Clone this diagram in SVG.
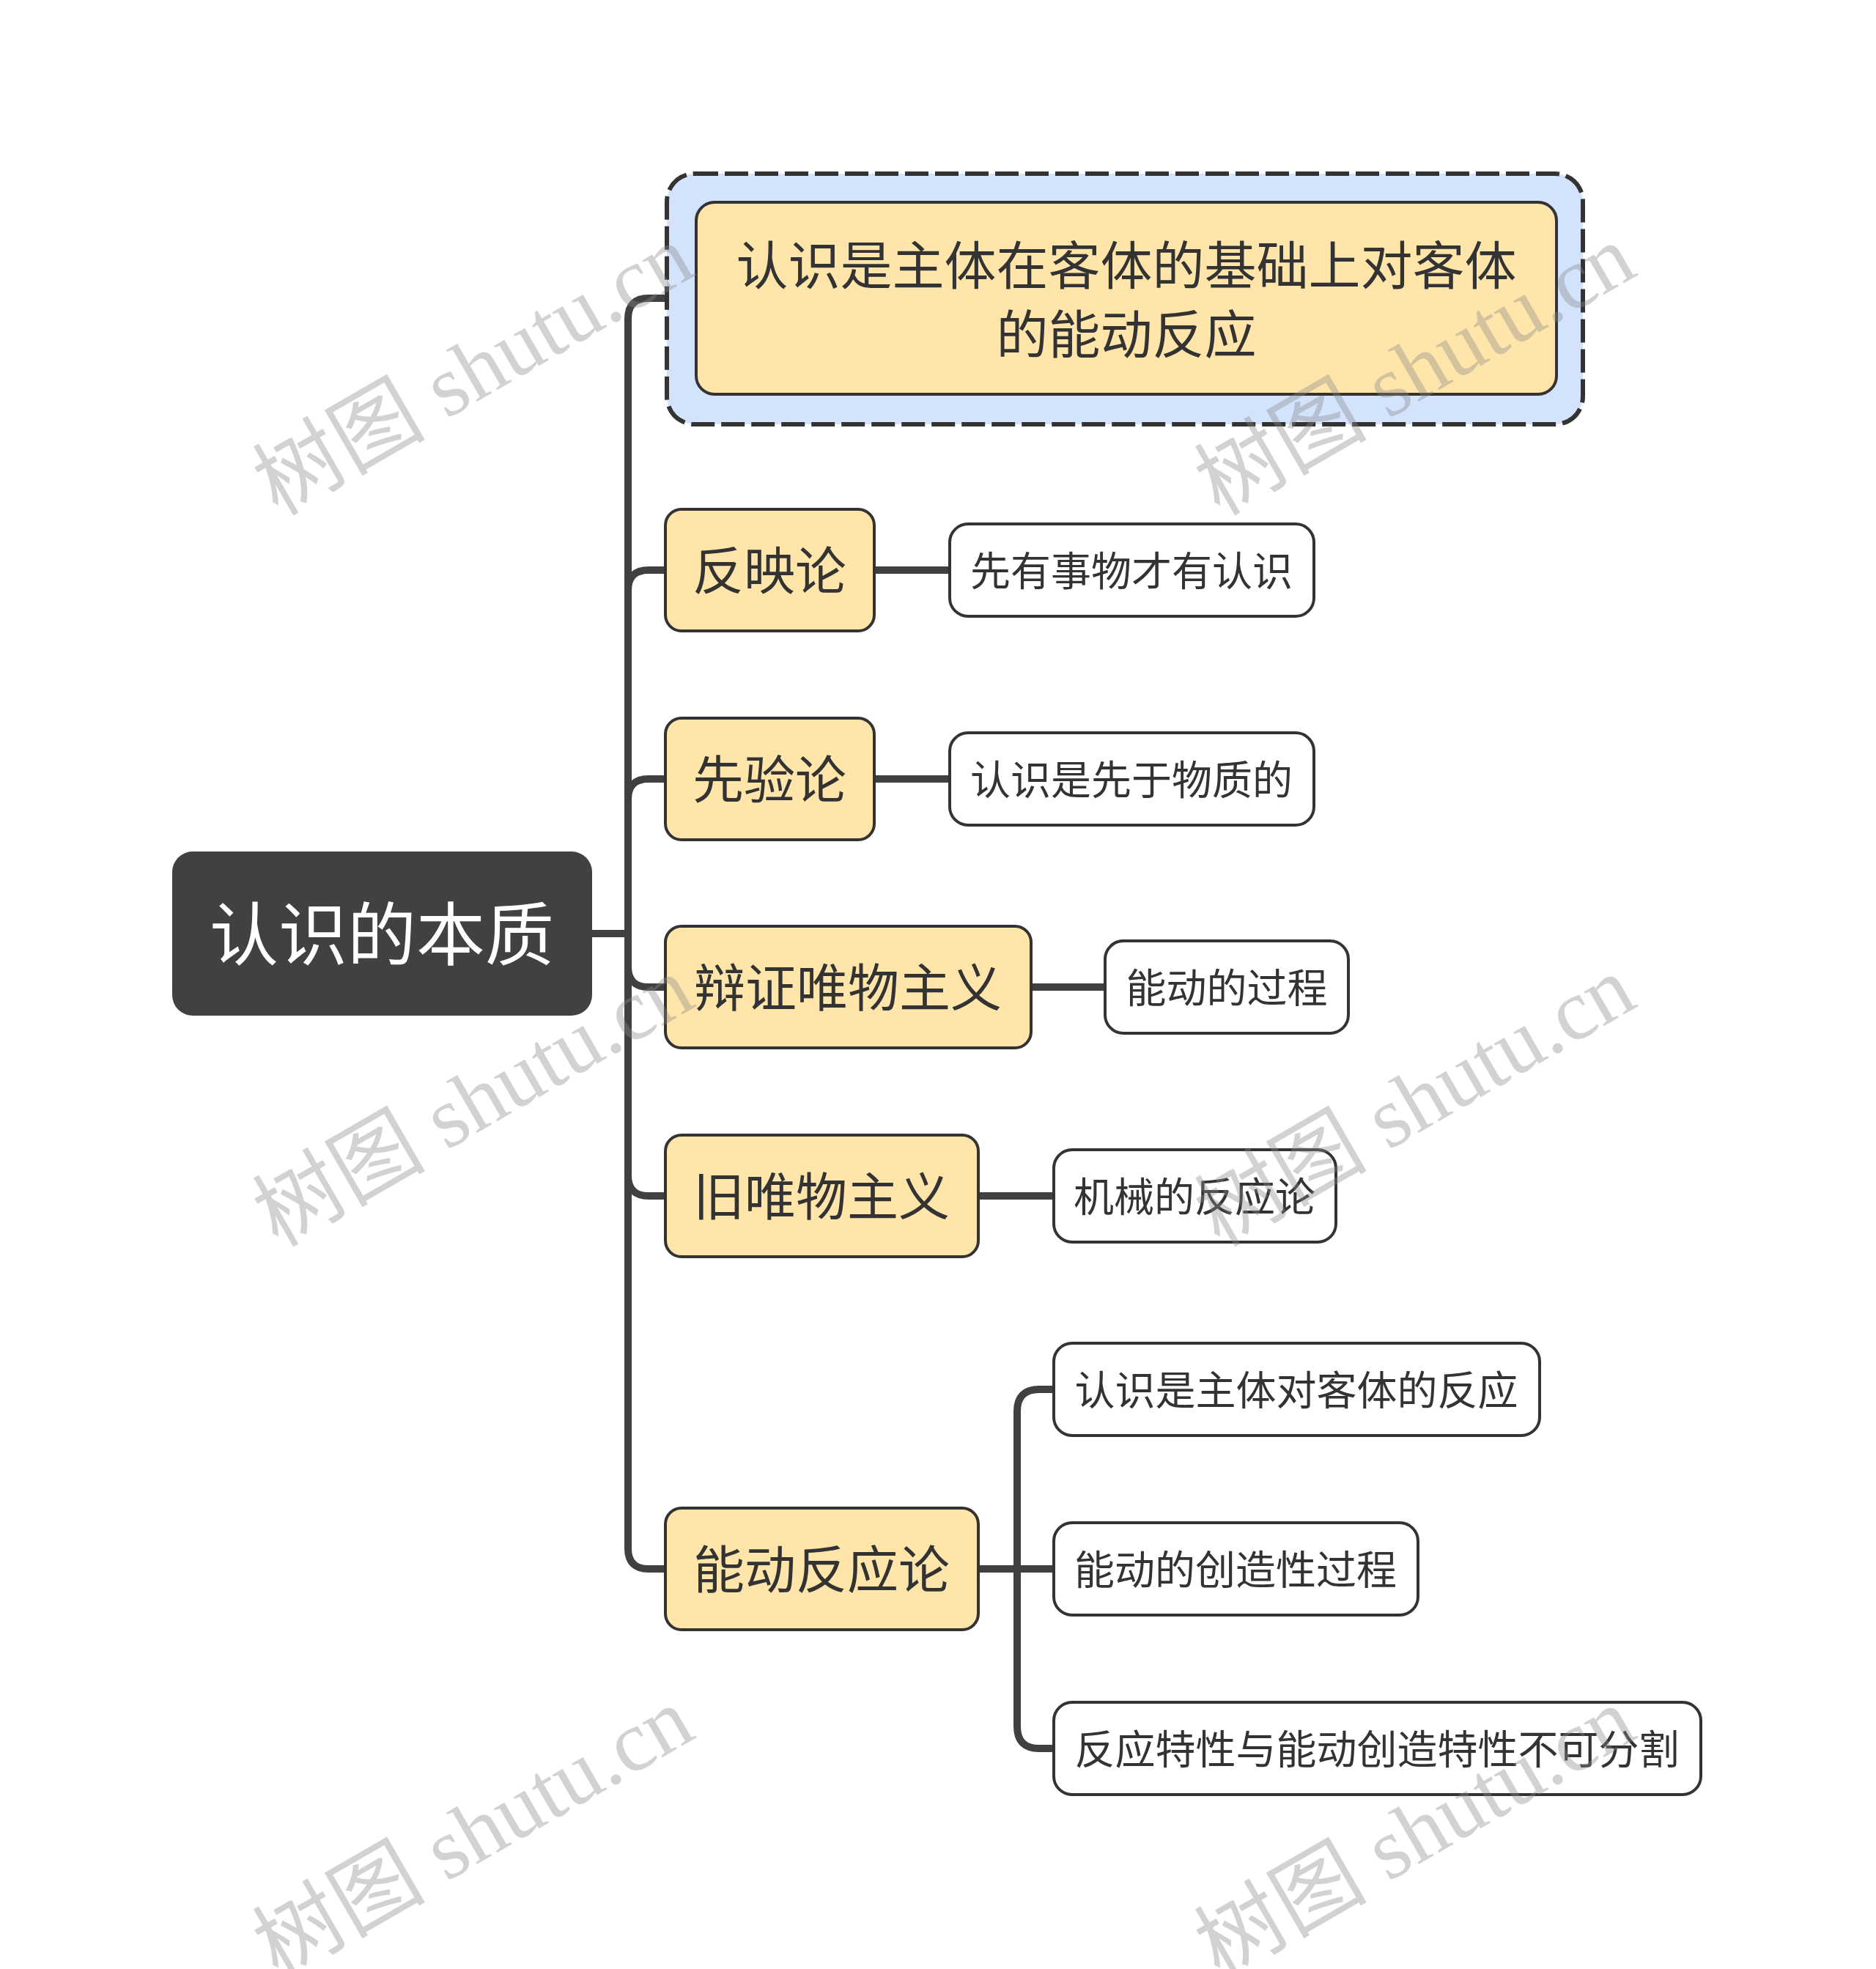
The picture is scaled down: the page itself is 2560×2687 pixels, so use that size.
<svg xmlns="http://www.w3.org/2000/svg" width="2560" height="2687" viewBox="0 0 2560 2687">
<style>
.lnk{fill:none;stroke:#404040;stroke-width:10;stroke-linecap:butt}
.l1 rect{fill:#FFE5A9;stroke:#333333;stroke-width:4}
.l2 rect{fill:#FFFFFF;stroke:#333333;stroke-width:4}
.t{font-family:"Noto Sans CJK SC","Noto Sans",sans-serif;fill:#333333;text-anchor:middle}
.t1{font-size:70px}
.t2{font-size:55px}
.wm{font-family:"Liberation Serif","Noto Sans CJK SC",serif;font-size:118px;fill:#8a8a8a;opacity:0.38}
</style>
<rect width="2560" height="2687" fill="#FFFFFF"/>
<g id="connectors">
<path class="lnk" d="M807,1274 H857"/>
<path class="lnk" d="M857,1274 V435 Q857,407 885,407 H952"/>
<path class="lnk" d="M857,1274 V806 Q857,778 885,778 H910"/>
<path class="lnk" d="M857,1274 V1091 Q857,1063 885,1063 H910"/>
<path class="lnk" d="M857,1274 V1319 Q857,1347 885,1347 H910"/>
<path class="lnk" d="M857,1274 V1604 Q857,1632 885,1632 H910"/>
<path class="lnk" d="M857,1274 V2113 Q857,2141 885,2141 H910"/>
<path class="lnk" d="M1193,778 H1298"/>
<path class="lnk" d="M1193,1063 H1298"/>
<path class="lnk" d="M1407,1347 H1510"/>
<path class="lnk" d="M1335,1632 H1440"/>
<path class="lnk" d="M1335,2141 H1440"/>
<path class="lnk" d="M1388,2141 V1926 Q1388,1896 1418,1896 H1440"/>
<path class="lnk" d="M1388,2141 V2356 Q1388,2386 1418,2386 H1440"/>
</g>
<g id="root">
<rect x="235" y="1162" width="573" height="224" rx="28" fill="#414141"/>
<text class="t" x="521" y="1310" font-size="94" style="fill:#FFFFFF">认识的本质</text>
</g>
<g id="node-top">
<rect x="910" y="237" width="1250" height="342" rx="38" fill="#D3E3FC" stroke="#333333" stroke-width="6" stroke-dasharray="32 9"/>
<g class="l1">
<rect x="950" y="276" width="1174" height="262" rx="25"/>
</g>
<text class="t t1" x="1537" y="388" style="font-size:71px">认识是主体在客体的基础上对客体</text>
<text class="t t1" x="1537" y="482" style="font-size:71px">的能动反应</text>
</g>
<g id="node-fanyinglun" class="l1">
<rect x="908" y="695" width="285" height="166" rx="22"/>
<text class="t t1" x="1050" y="805">反映论</text>
</g>
<g id="node-xianyanlun" class="l1">
<rect x="908" y="980" width="285" height="166" rx="22"/>
<text class="t t1" x="1050" y="1090">先验论</text>
</g>
<g id="node-bianzheng" class="l1">
<rect x="908" y="1264" width="499" height="166" rx="22"/>
<text class="t t1" x="1157" y="1374">辩证唯物主义</text>
</g>
<g id="node-jiuweiwu" class="l1">
<rect x="908" y="1549" width="427" height="166" rx="22"/>
<text class="t t1" x="1121" y="1659">旧唯物主义</text>
</g>
<g id="node-nengdong" class="l1">
<rect x="908" y="2058" width="427" height="166" rx="22"/>
<text class="t t1" x="1121" y="2168">能动反应论</text>
</g>
<g id="leaf-1" class="l2">
<rect x="1296" y="715" width="497" height="126" rx="25"/>
<text class="t t2" x="1544" y="799">先有事物才有认识</text>
</g>
<g id="leaf-2" class="l2">
<rect x="1296" y="1000" width="497" height="126" rx="25"/>
<text class="t t2" x="1544" y="1084">认识是先于物质的</text>
</g>
<g id="leaf-3" class="l2">
<rect x="1508" y="1284" width="332" height="126" rx="25"/>
<text class="t t2" x="1674" y="1368">能动的过程</text>
</g>
<g id="leaf-4" class="l2">
<rect x="1438" y="1569" width="385" height="126" rx="25"/>
<text class="t t2" x="1630" y="1653">机械的反应论</text>
</g>
<g id="leaf-5" class="l2">
<rect x="1438" y="1833" width="663" height="126" rx="25"/>
<text class="t t2" x="1769" y="1917">认识是主体对客体的反应</text>
</g>
<g id="leaf-6" class="l2">
<rect x="1438" y="2078" width="497" height="126" rx="25"/>
<text class="t t2" x="1686" y="2162">能动的创造性过程</text>
</g>
<g id="leaf-7" class="l2">
<rect x="1438" y="2323" width="883" height="126" rx="25"/>
<text class="t t2" x="1879" y="2407">反应特性与能动创造特性不可分割</text>
</g>
<g id="watermarks">
<text class="wm" transform="translate(379,705) rotate(-30)">树图 shutu.cn</text>
<text class="wm" transform="translate(1664,705) rotate(-30)">树图 shutu.cn</text>
<text class="wm" transform="translate(379,1703) rotate(-30)">树图 shutu.cn</text>
<text class="wm" transform="translate(1664,1703) rotate(-30)">树图 shutu.cn</text>
<text class="wm" transform="translate(379,2701) rotate(-30)">树图 shutu.cn</text>
<text class="wm" transform="translate(1664,2701) rotate(-30)">树图 shutu.cn</text>
</g>
</svg>
